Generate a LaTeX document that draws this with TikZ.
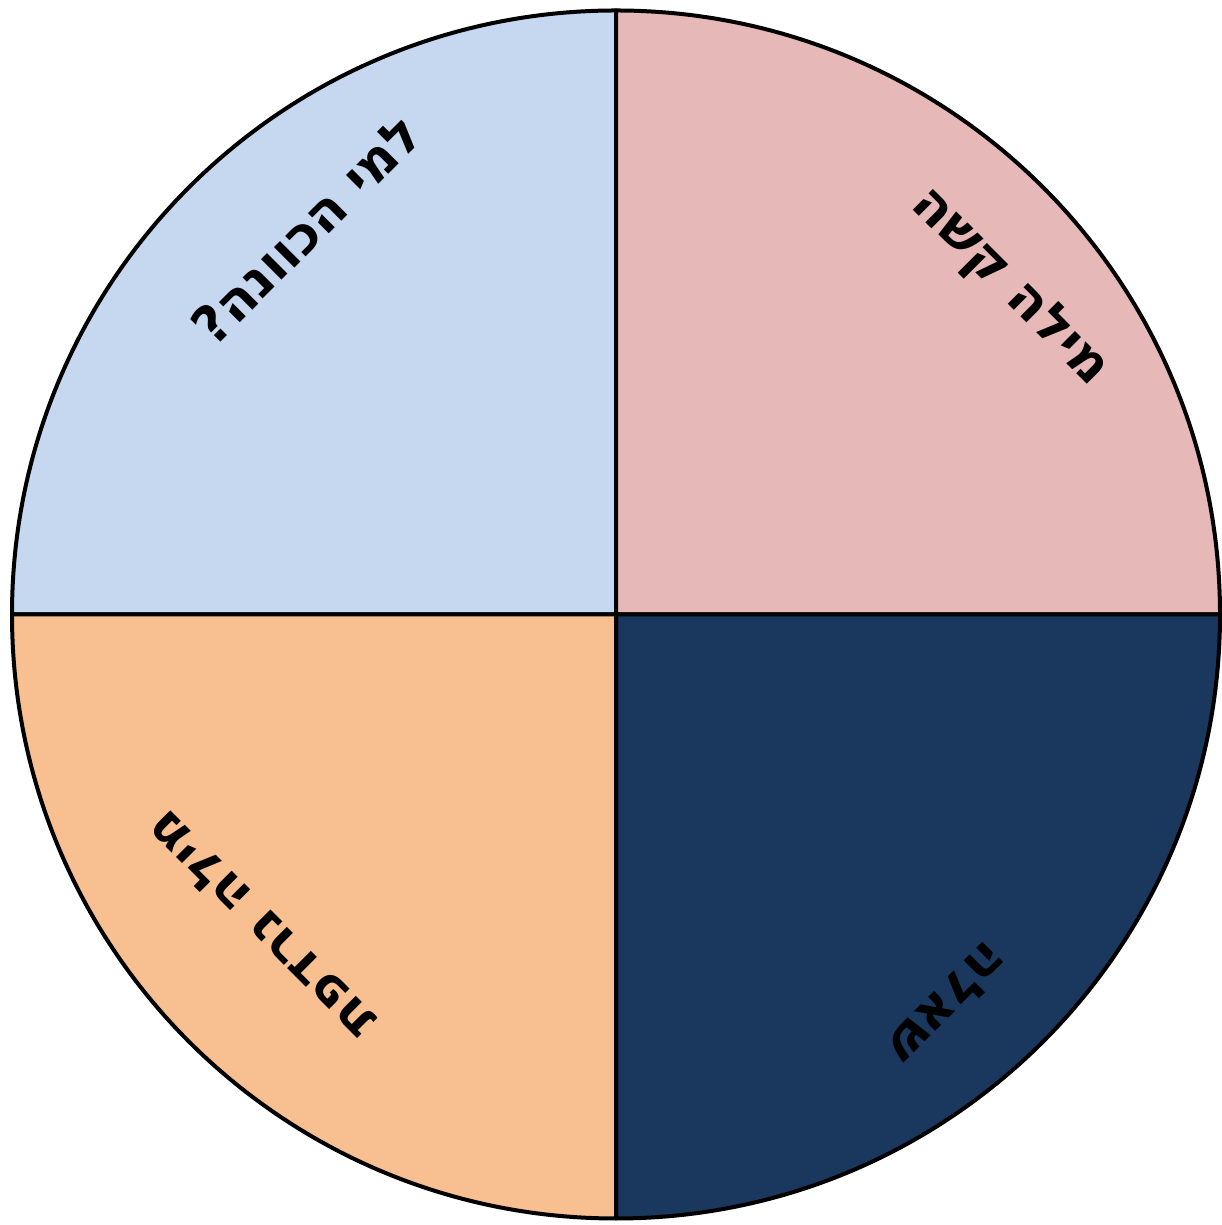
\documentclass[tikz,border=0pt]{standalone}
\usepackage{fontspec}
\newfontfamily\hebfont[Script=Hebrew, BoldFont={DejaVu Sans Bold}]{DejaVu Sans}
\TeXXeTstate=1
\usepackage{tikz}
\definecolor{wheelblue}{HTML}{C6D8F0}
\definecolor{wheelpink}{HTML}{E6B8B7}
\definecolor{wheelorange}{HTML}{F8C091}
\definecolor{wheelnavy}{HTML}{1A375E}

\begin{document}
\begin{tikzpicture}[x=1pt, y=1pt, every node/.style={font=\hebfont\bfseries\fontsize{53}{58}\selectfont}]
\tikzstyle{sector}=[draw=black, line width=4pt, line join=round]
\tikzstyle{catlabel}=[inner sep=0pt, text=black]
\useasboundingbox (0,0) rectangle (1221,1225);
\coordinate (c) at (616,610.5);
% four quarters of the wheel
\filldraw[sector, fill=wheelblue] (c) -- ++(180:604) arc[start angle=180, end angle=90, radius=604] -- cycle;
\filldraw[sector, fill=wheelpink] (c) -- ++(90:604) arc[start angle=90, end angle=0, radius=604] -- cycle;
\filldraw[sector, fill=wheelnavy] (c) -- ++(0:604) arc[start angle=0, end angle=-90, radius=604] -- cycle;
\filldraw[sector, fill=wheelorange] (c) -- ++(-90:604) arc[start angle=-90, end angle=-180, radius=604] -- cycle;
% labels
\node[catlabel, rotate=45] (who) at (306,996) {\beginR למי הכוונה?\endR};
\node[catlabel, rotate=-45] (hard) at (1009,937) {\beginR מילה קשה\endR};
\node[catlabel, rotate=135] (synonym) at (260,299) {\beginR מילה נרדפת\endR};
\node[catlabel, rotate=-135] (question) at (948,221) {\beginR שאלה\endR};
\end{tikzpicture}
\end{document}
